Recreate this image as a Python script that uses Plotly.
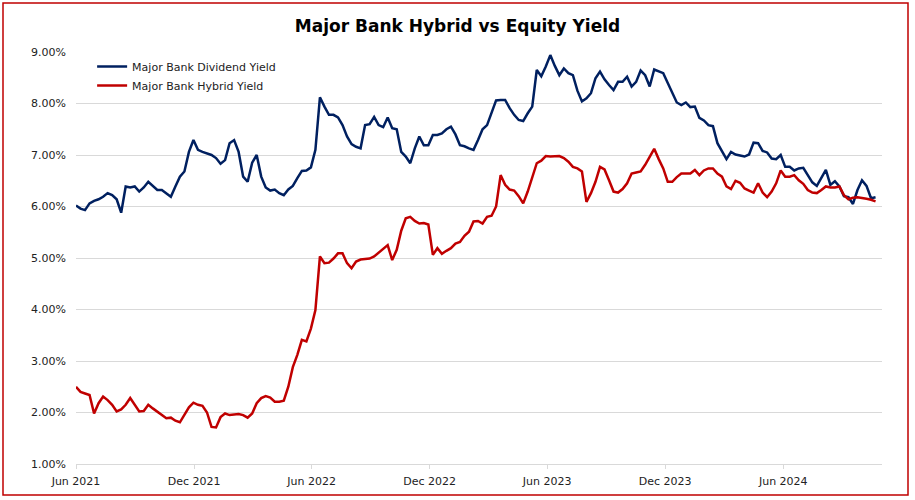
import pandas as pd
import plotly.graph_objects as go

# Weekly observations starting Jun 2021
start_date = "2021-06-01"

dividend_yield = [
    6.02, 5.96, 5.93, 6.06, 6.11, 6.14, 6.19, 6.26, 6.22, 6.14,
    5.88, 6.39, 6.37, 6.39, 6.29, 6.37, 6.48, 6.39, 6.32, 6.32,
    6.26, 6.19, 6.39, 6.58, 6.68, 7.06, 7.29, 7.10, 7.06, 7.03,
    7.00, 6.94, 6.83, 6.90, 7.23, 7.29, 7.06, 6.58, 6.48, 6.85,
    7.00, 6.58, 6.37, 6.31, 6.33, 6.26, 6.22, 6.33, 6.40, 6.55,
    6.69, 6.70, 6.76, 7.10, 8.12, 7.94, 7.78, 7.78, 7.73, 7.58,
    7.36, 7.21, 7.16, 7.13, 7.58, 7.60, 7.74, 7.58, 7.54, 7.73,
    7.52, 7.50, 7.06, 6.97, 6.84, 7.13, 7.36, 7.19, 7.19, 7.39,
    7.39, 7.42, 7.50, 7.55, 7.40, 7.19, 7.17, 7.13, 7.10, 7.29,
    7.50, 7.58, 7.81, 8.06, 8.07, 8.07, 7.91, 7.78, 7.68, 7.66,
    7.81, 7.94, 8.65, 8.53, 8.72, 8.94, 8.73, 8.55, 8.68, 8.59,
    8.55, 8.25, 8.04, 8.10, 8.20, 8.49, 8.62, 8.47, 8.36, 8.26,
    8.42, 8.42, 8.52, 8.33, 8.42, 8.64, 8.55, 8.33, 8.66, 8.62,
    8.59, 8.40, 8.20, 8.02, 7.97, 8.02, 7.93, 7.94, 7.72, 7.67,
    7.58, 7.56, 7.23, 7.08, 6.92, 7.06, 7.01, 6.99, 6.97, 7.01,
    7.24, 7.23, 7.08, 7.05, 6.93, 6.92, 7.00, 6.77, 6.77, 6.70,
    6.74, 6.75, 6.61, 6.47, 6.40, 6.55, 6.71, 6.42, 6.49, 6.39,
    6.20, 6.18, 6.05, 6.32, 6.51, 6.40, 6.16, 6.18,
]

hybrid_yield = [
    2.50, 2.40, 2.37, 2.34, 1.98, 2.18, 2.31, 2.24, 2.15, 2.02,
    2.06, 2.15, 2.28, 2.15, 2.02, 2.03, 2.15, 2.08, 2.02, 1.95,
    1.89, 1.90, 1.84, 1.81, 1.97, 2.10, 2.19, 2.15, 2.13, 2.00,
    1.72, 1.71, 1.91, 1.98, 1.95, 1.96, 1.97, 1.95, 1.90, 1.98,
    2.18, 2.28, 2.32, 2.29, 2.21, 2.21, 2.23, 2.50, 2.88, 3.12,
    3.41, 3.38, 3.63, 3.99, 5.03, 4.90, 4.91, 4.99, 5.09, 5.09,
    4.90, 4.80, 4.93, 4.97, 4.98, 4.99, 5.03, 5.10, 5.17, 5.25,
    4.96, 5.16, 5.53, 5.77, 5.80, 5.72, 5.67, 5.68, 5.65, 5.06,
    5.19, 5.08, 5.14, 5.19, 5.28, 5.31, 5.43, 5.51, 5.71, 5.72,
    5.67, 5.80, 5.82, 6.00, 6.61, 6.42, 6.33, 6.31, 6.20, 6.06,
    6.29, 6.58, 6.84, 6.89, 6.98, 6.97, 6.97, 6.98, 6.94, 6.87,
    6.77, 6.74, 6.68, 6.09, 6.26, 6.48, 6.77, 6.72, 6.51, 6.29,
    6.27, 6.34, 6.45, 6.64, 6.66, 6.68, 6.81, 6.97, 7.12, 6.92,
    6.74, 6.48, 6.48, 6.57, 6.64, 6.64, 6.64, 6.71, 6.61, 6.70,
    6.74, 6.74, 6.64, 6.58, 6.39, 6.34, 6.50, 6.46, 6.35, 6.31,
    6.27, 6.45, 6.27, 6.18, 6.29, 6.45, 6.70, 6.58, 6.58, 6.61,
    6.51, 6.44, 6.32, 6.27, 6.26, 6.32, 6.39, 6.37, 6.37, 6.39,
    6.22, 6.14, 6.17, 6.18, 6.17, 6.15, 6.13, 6.10,
]

tick_dates = ["2021-06-01", "2021-12-01", "2022-06-01", "2022-12-01",
              "2023-06-01", "2023-12-01", "2024-06-01"]
tick_labels = ["Jun 2021", "Dec 2021", "Jun 2022", "Dec 2022",
               "Jun 2023", "Dec 2023", "Jun 2024"]

dates = pd.date_range(start_date, periods=len(dividend_yield), freq="7D")

NAVY = "#002060"
RED = "#C00000"
FONT = "DejaVu Sans"

fig = go.Figure()
fig.add_trace(go.Scatter(x=dates, y=[v / 100 for v in dividend_yield],
                         mode="lines", name="Major Bank Dividend Yield",
                         line=dict(color=NAVY, width=2.5)))
fig.add_trace(go.Scatter(x=dates, y=[v / 100 for v in hybrid_yield],
                         mode="lines", name="Major Bank Hybrid Yield",
                         line=dict(color=RED, width=2.5)))

fig.update_layout(
    width=915, height=500,
    margin=dict(l=76, r=33, t=52, b=36),
    paper_bgcolor="white", plot_bgcolor="white",
    font=dict(family=FONT, size=11, color="#222222"),
    title=dict(text="<b>Major Bank Hybrid vs Equity Yield</b>",
               x=0.5, xref="container", xanchor="center",
               y=0.947, yanchor="middle",
               font=dict(family=FONT, size=17, color="#000000")),
    showlegend=True,
    legend=dict(x=0.02, y=1.0, xanchor="left", yanchor="top",
                bgcolor="rgba(0,0,0,0)", font=dict(size=11, color="#222222"),
                tracegroupgap=0),
    xaxis=dict(type="date", range=["2021-06-01", "2024-11-01"],
               tickvals=tick_dates, ticktext=tick_labels,
               showgrid=False, showline=True, linecolor="#D9D9D9", linewidth=1,
               ticks="outside", ticklen=4, tickcolor="#D9D9D9",
               ticklabelstandoff=3,
               tickfont=dict(size=11, color="#222222")),
    yaxis=dict(range=[0.01, 0.09], dtick=0.01, tickformat=".2%",
               showgrid=True, gridcolor="#D9D9D9", gridwidth=1,
               zeroline=False, showline=False, ticks="",
               ticklabelstandoff=9,
               tickfont=dict(size=11, color="#222222")),
    shapes=[dict(type="rect", xref="paper", yref="paper",
                 x0=(3 - 76) / 806, x1=(908 - 76) / 806,
                 y0=(464 - 495) / 412, y1=(464 - 3) / 412,
                 line=dict(color=RED, width=1.5), fillcolor="rgba(0,0,0,0)",
                 layer="below")],
)

fig.write_html("out.html",
               config={"displayModeBar": False},
               post_script="document.body.style.margin='0px';")
